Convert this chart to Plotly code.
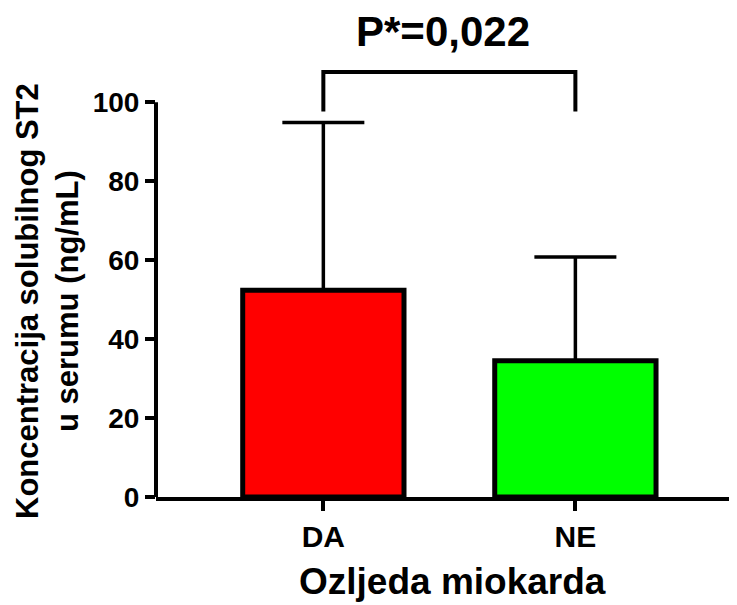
import plotly.graph_objects as go

categories = ["DA", "NE"]
means = [52.4, 34.5]
sd_upper = [42.5, 26.3]
bar_colors = ["#ff0000", "#00ff00"]
y_ticks = [0, 20, 40, 60, 80, 100]
bracket_low = 97.7
bracket_high = 107.7
p_text = "P*=0,022"

FONT = "Liberation Sans, Arial, sans-serif"
PW = 589.0  # plot width in px
PH = 442.0  # plot height in px

fig = go.Figure()
fig.add_trace(go.Bar(
    x=categories, y=means, width=0.64,
    marker=dict(color=bar_colors, line=dict(color="black", width=5)),
    error_y=dict(type="data", symmetric=False, array=sd_upper, arrayminus=[0, 0],
                 thickness=3.5, width=41, color="black"),
    showlegend=False, hoverinfo="skip",
))
fig.add_trace(go.Scatter(
    x=[categories[0], categories[0], categories[1], categories[1]],
    y=[bracket_low, bracket_high, bracket_high, bracket_low],
    mode="lines", line=dict(color="black", width=4),
    showlegend=False, hoverinfo="skip",
))

fig.add_shape(type="line", xref="x domain", yref="y", x0=0, x1=0, y0=0, y1=100,
              line=dict(color="black", width=4))

fig.add_annotation(text=p_text, xref="paper", yref="paper", x=(443 - 156) / PW,
                   y=(497 - 32) / PH,
                   showarrow=False, xanchor="center", yanchor="middle",
                   font=dict(family=FONT, size=42, color="black", weight="bold"))
fig.add_annotation(text="Koncentracija solubilnog ST2<br>u serumu (ng/mL)",
                   xref="paper", yref="paper", x=(47 - 156) / PW, y=(497 - 301) / PH,
                   textangle=-90,
                   showarrow=False, xanchor="center", yanchor="middle",
                   font=dict(family=FONT, size=31, color="black", weight="bold"))
fig.add_annotation(text="Ozljeda miokarda", xref="paper", yref="paper",
                   x=(452 - 156) / PW, y=0, yshift=-84, showarrow=False,
                   xanchor="center", yanchor="middle",
                   font=dict(family=FONT, size=37, color="black", weight="bold"))

fig.update_layout(
    width=737, height=605,
    margin=dict(l=148, r=0, t=47, b=116),
    paper_bgcolor="white", plot_bgcolor="white",
    font=dict(family=FONT, color="black", weight="bold"),
    xaxis=dict(type="category", range=[-0.664, 1.673], showline=True, linecolor="black",
               linewidth=4, ticks="outside", ticklen=10, tickwidth=3.5, tickcolor="black",
               showgrid=False, zeroline=False,
               tickfont=dict(family=FONT, size=30, color="black", weight="bold")),
    yaxis=dict(range=[0, 112], tickvals=y_ticks, showline=False, ticks="outside",
               ticklen=10, tickwidth=4, tickcolor="black", showgrid=False, zeroline=False,
               tickfont=dict(family=FONT, size=28, color="black", weight="bold")),
)

fig.write_html("out.html")
